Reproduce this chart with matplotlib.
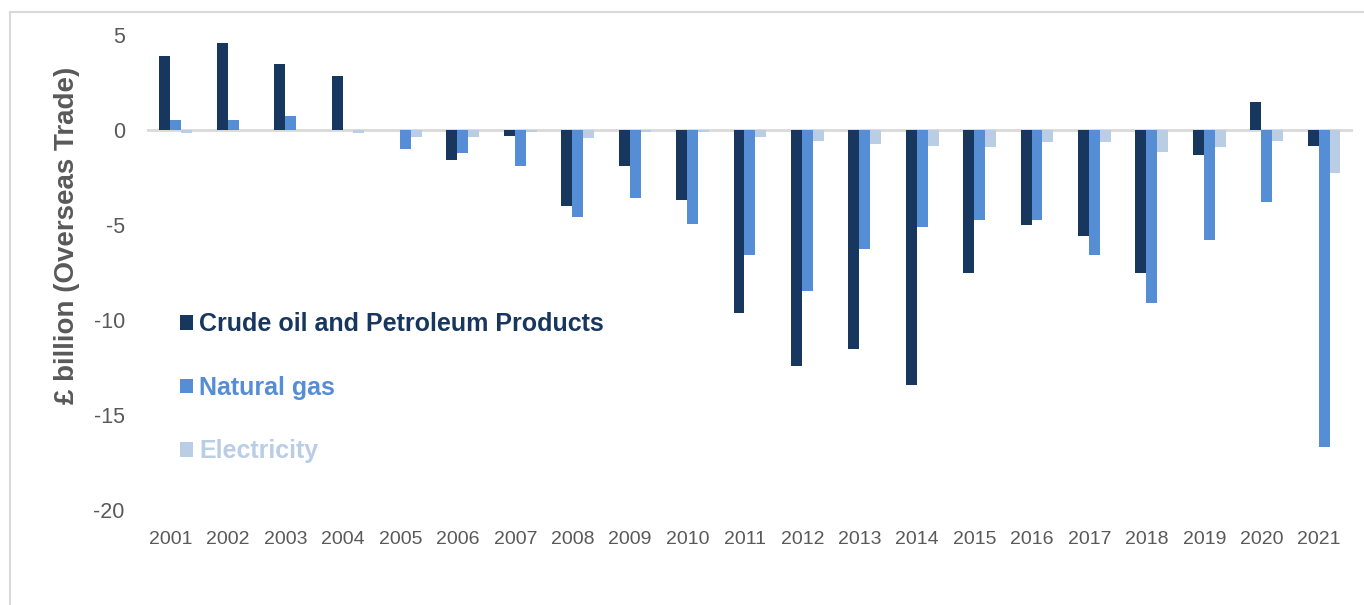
import numpy as np
import matplotlib.pyplot as plt
import matplotlib.transforms as mtransforms
from matplotlib.lines import Line2D

years = [str(y) for y in range(2001, 2022)]

crude_oil = [3.9, 4.6, 3.5, 2.85, 0.0, -1.55, -0.3, -4.0, -1.9, -3.7, -9.65,
             -12.4, -11.5, -13.4, -7.5, -5.0, -5.55, -7.5, -1.3, 1.5, -0.85]
natural_gas = [0.55, 0.55, 0.75, 0.0, -1.0, -1.2, -1.9, -4.55, -3.6, -4.95, -6.55,
               -8.45, -6.25, -5.1, -4.75, -4.75, -6.6, -9.1, -5.8, -3.8, -16.7]
electricity = [-0.15, 0.0, 0.0, -0.15, -0.35, -0.35, -0.1, -0.4, -0.1, -0.1, -0.35,
               -0.6, -0.75, -0.85, -0.9, -0.65, -0.65, -1.15, -0.9, -0.55, -2.25]

series = ['Crude oil and Petroleum Products', 'Natural gas', 'Electricity']
colours = ['#17375e', '#558ed5', '#b9cde5']

plt.rcParams['font.family'] = ['Liberation Sans', 'DejaVu Sans']
plt.rcParams['axes.unicode_minus'] = False

fig = plt.figure(figsize=(13.64, 6.05), dpi=100)
ax = fig.add_axes([0.1078, 0.157, 0.884, 0.785])

x = np.arange(len(years))
w = 0.19
for i, (vals, c, name) in enumerate(zip([crude_oil, natural_gas, electricity], colours, series)):
    ax.bar(x + (i - 1) * w, vals, width=w, color=c, label=name, zorder=2)

ax.set_xlim(-0.5, len(years) - 0.5)
ax.set_ylim(-20, 5)
ax.set_yticks([5, 0, -5, -10, -15, -20])
ax.set_xticks(x)
ax.set_xticklabels(years)
ax.axhline(0, color='#d9d9d9', lw=2, zorder=1)

for s in ax.spines.values():
    s.set_visible(False)
ax.tick_params(axis='both', length=0, labelcolor='#595959')
ax.tick_params(axis='y', pad=16, labelsize=15.5)
ax.tick_params(axis='x', pad=15, labelsize=14)
# year labels sit a little left of the bar groups
shift = mtransforms.ScaledTranslation(-5 / 100, 0, fig.dpi_scale_trans)
for lab in ax.get_xticklabels():
    lab.set_transform(lab.get_transform() + shift)

ax.set_ylabel('£ billion (Overseas Trade)', fontsize=20, fontweight='bold', color='#595959')
ax.yaxis.set_label_coords(-0.0556, 0.579)

leg = ax.legend(loc='upper left', bbox_to_anchor=(0.132, 0.484), bbox_transform=fig.transFigure,
                frameon=False, fontsize=18, handlelength=0.52, handleheight=0.52,
                handletextpad=0.25, labelspacing=1.58, borderpad=0, borderaxespad=0)
for t, c in zip(leg.get_texts(), colours):
    t.set_color(c)
    t.set_fontweight('bold')

# light grey frame round the chart (top and left edges visible)
fig.add_artist(Line2D([10 / 1364, 1], [1 - 12 / 605, 1 - 12 / 605], transform=fig.transFigure,
                      color='#d9d9d9', lw=1.5))
fig.add_artist(Line2D([10 / 1364, 10 / 1364], [0, 1 - 12 / 605], transform=fig.transFigure,
                      color='#d9d9d9', lw=1.5))

fig.savefig('out.png', dpi=100)
